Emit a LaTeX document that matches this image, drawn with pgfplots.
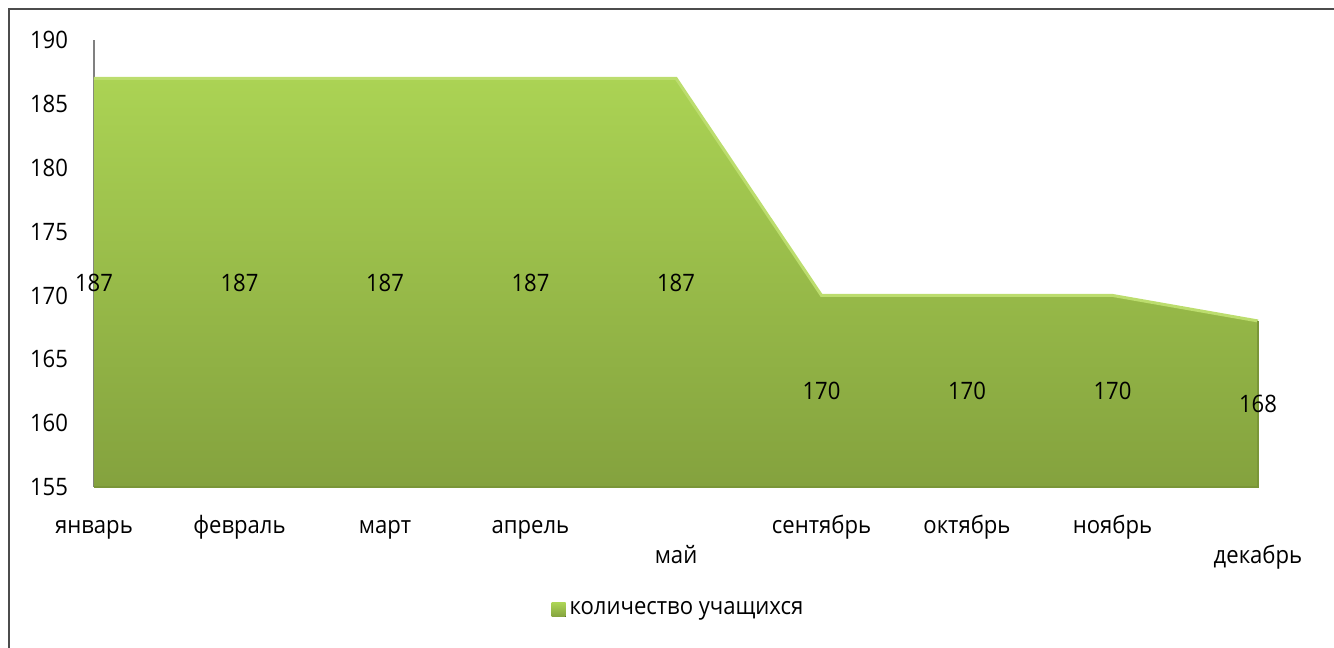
\documentclass[border=0pt]{standalone}
\usepackage{fontspec}
\setmainfont{Open Sans}[FakeStretch=0.92]
\usepackage{pgfplots}
\pgfplotsset{compat=1.18}
\definecolor{gtop}{HTML}{ABD354}
\definecolor{gbot}{HTML}{84A23E}
\definecolor{gedge}{HTML}{BCDD6E}
\definecolor{gdark}{HTML}{7A9638}
\begin{document}
\begin{tikzpicture}[font=\fontsize{12}{14}\selectfont]
\useasboundingbox (0,0) rectangle (667pt,324pt);
\draw[line width=1pt, black!70] (4.5pt,0) -- (4.5pt,319.5pt) -- (667pt,319.5pt);
\begin{axis}[
  at={(47pt,80.5pt)}, anchor=south west,
  scale only axis, width=582pt, height=223.5pt,
  xmin=0, xmax=8, ymin=155, ymax=190,
  clip=false,
  ytick={155,160,...,190},
  /pgf/number format/assume math mode=true,
  xtick={0,1,2,3,5,6,7},
  xticklabels={январь,февраль,март,апрель,сентябрь,октябрь,ноябрь},
  extra x ticks={4,8},
  extra x tick labels={май,декабрь},
  extra x tick style={xticklabel style={yshift=-15pt}},
  xticklabel style={anchor=base, yshift=-23.5pt},
  yticklabel style={anchor=east, xshift=-9.5pt},
  major tick length=0pt,
  axis x line*=bottom, axis y line*=left,
  x axis line style={draw=none},
  y axis line style={draw=black!50, line width=0.6pt, -},
  legend style={draw=none, at={(0.503,-0.275)}, anchor=center, fill=none,
    font=\fontsize{12}{14}\selectfont},
  legend image code/.code={\fill[top color=gtop, bottom color=gbot, draw=none] (0pt,-3.5pt) rectangle (7pt,3.5pt);},
]
\addplot[draw=none, top color=gtop, bottom color=gbot]
  coordinates {(0,155) (0,187) (1,187) (2,187) (3,187) (4,187) (5,170) (6,170) (7,170) (8,168) (8,155)} -- cycle;
\addlegendentry{количество учащихся}
\addplot[gedge, line width=1.5pt, forget plot]
  coordinates {(0,187) (1,187) (2,187) (3,187) (4,187) (5,170) (6,170) (7,170) (8,168)};
\addplot[gdark, line width=1pt, forget plot]
  coordinates {(8,168) (8,155) (0,155)};
\addplot[draw=none, mark=none, forget plot,
  nodes near coords, point meta=explicit symbolic,
  every node near coord/.append style={anchor=center, black, font=\fontsize{12}{14}\selectfont}]
  coordinates {(0,171) [187] (1,171) [187] (2,171) [187] (3,171) [187] (4,171) [187]
               (5,162.5) [170] (6,162.5) [170] (7,162.5) [170] (8,161.5) [168]};
\end{axis}
\end{tikzpicture}
\end{document}
